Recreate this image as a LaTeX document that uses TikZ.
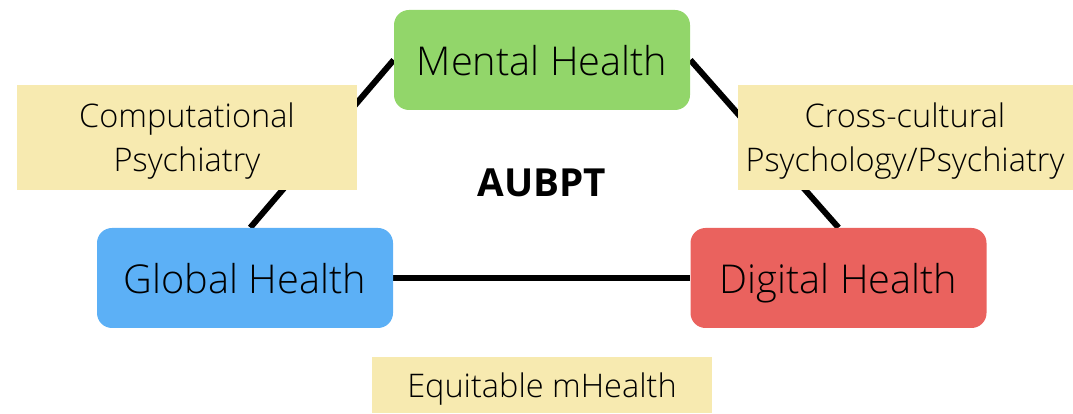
\documentclass[tikz,border=0pt]{standalone}
\usepackage{fontspec}
\setmainfont{Open Sans Light}[BoldFont={Open Sans Bold}]
\usetikzlibrary{backgrounds}

\definecolor{mentalgreen}{RGB}{146,214,106}
\definecolor{globalblue}{RGB}{92,176,246}
\definecolor{digitalred}{RGB}{234,98,94}
\definecolor{topicyellow}{RGB}{247,234,176}

\begin{document}
\begin{tikzpicture}

    \useasboundingbox (0,0) rectangle (21.46,8.26);

    \begin{scope}[every node/.style={rounded corners=0.3cm,minimum width=5.92cm,minimum height=2cm,text depth=0pt,font=\fontsize{22.6}{28}\selectfont}]
        \node[fill=mentalgreen] (mental) at (10.84,7.06) {Mental Health};
        \node[fill=globalblue] (global) at (4.9,2.7) {Global Health};
        \node[fill=digitalred] (digital) at (16.77,2.7) {Digital Health};
    \end{scope}

    \begin{scope}[every node/.style={fill=topicyellow,align=center,minimum height=2.1cm,inner xsep=1pt,text depth=0pt,font=\fontsize{18.5}{25}\selectfont}]
        \node[minimum width=6.8cm] (comp) at (3.74,5.51) {Computational\\Psychiatry};
        \node[minimum width=6.7cm] (cross) at (18.1,5.51) {Cross-cultural\\Psychology/Psychiatry};
        \node[minimum width=6.8cm,minimum height=1.12cm] (equit) at (10.84,0.56) {Equitable mHealth};
    \end{scope}

    \node[font=\fontsize{22}{26}\selectfont\bfseries] (aubpt) at (10.84,4.6) {AUBPT};

    \begin{scope}[on background layer, every path/.style={draw=black,line width=3.4pt}]
        \path (mental.west) -- ([xshift=3pt]global.north);
        \path (mental.east) -- (digital.north);
        \path (global.east) -- (digital.west);
    \end{scope}

\end{tikzpicture}
\end{document}
